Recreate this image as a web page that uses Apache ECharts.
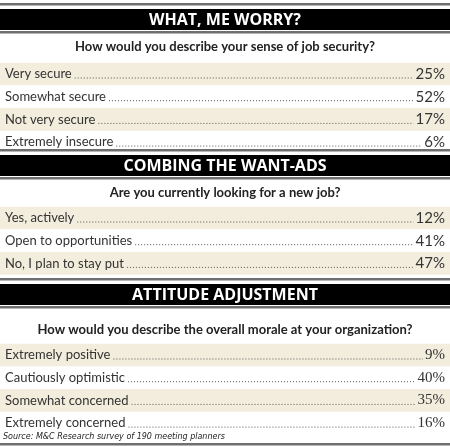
<!DOCTYPE html><html><head><meta charset="utf-8">
<script src="https://cdn.jsdelivr.net/npm/echarts@6/dist/echarts.min.js"></script>
<style>html,body{margin:0;padding:0;background:#fff}#c{width:450px;height:447px}</style></head><body><div id="c"></div>
<script>
const titles=["WHAT, ME WORRY?","COMBING THE WANT-ADS","ATTITUDE ADJUSTMENT"];
const questions=["How would you describe your sense of job security?","Are you currently looking for a new job?","How would you describe the overall morale at your organization?"];
const cats1=["Very secure","Somewhat secure","Not very secure","Extremely insecure"];
const vals1=[25,52,17,6];
const cats2=["Yes, actively","Open to opportunities","No, I plan to stay put"];
const vals2=[12,41,47];
const cats3=["Extremely positive","Cautiously optimistic","Somewhat concerned","Extremely concerned"];
const vals3=[9,40,35,16];
const source="Source: M&C Research survey of 190 meeting planners";

const sections=[
 {title:titles[0],q:questions[0],cats:cats1,vals:vals1,hy:20,qy:47,ry:74,serif:false},
 {title:titles[1],q:questions[1],cats:cats2,vals:vals2,hy:166,qy:193,ry:218,serif:false},
 {title:titles[2],q:questions[2],cats:cats3,vals:vals3,hy:295,qy:330,ry:355,serif:true}
];
const cv=document.createElement('canvas').getContext('2d');
function w(t,f){cv.font=f;return cv.measureText(t).width;}
const rowH=22.7, bodyFont='13px Lato', g=[];
function grayLine(y){g.push({type:'rect',shape:{x:0,y:y,width:450,height:2.5},style:{fill:'#6f6f6f'}});}
sections.forEach(s=>{
 grayLine(s.hy-17);
 g.push({type:'rect',shape:{x:0,y:s.hy-11,width:450,height:21},style:{fill:'#000'}});
 grayLine(s.hy+11);
 g.push({type:'text',x:225,y:s.hy,style:{text:s.title,fill:'#fff',font:'bold 16px "Open Sans"',align:'center',verticalAlign:'middle'}});
 g.push({type:'text',x:225,y:s.qy,style:{text:s.q,fill:'#222',font:'bold 13px Lato',align:'center',verticalAlign:'middle'}});
 s.cats.forEach((c,i)=>{
  const y=s.ry+i*rowH;
  if(i%2===0) g.push({type:'rect',shape:{x:0,y:y-rowH/2,width:450,height:rowH},style:{fill:'#f3eddd'}});
  const vf=s.serif?'15px "Liberation Serif"':'15px Lato';
  const vt=s.vals[i]+'%';
  const lw=w(c,bodyFont), vw=w(vt,vf);
  g.push({type:'text',x:5,y:y,style:{text:c,fill:'#333',font:bodyFont,verticalAlign:'middle'}});
  g.push({type:'line',shape:{x1:5+lw+3,y1:y+4,x2:445-vw-2,y2:y+4},style:{stroke:'#555',lineWidth:1,lineDash:[1,2]}});
  g.push({type:'text',x:445,y:y,style:{text:vt,fill:'#333',font:vf,align:'right',verticalAlign:'middle'}});
 });
});
g.push({type:'text',x:3,y:437,style:{text:source,fill:'#222',font:'italic 8px "DejaVu Sans"',verticalAlign:'middle'}});
grayLine(443);
const ch=echarts.init(document.getElementById('c'),null,{renderer:'canvas'});
ch.setOption({animation:false,graphic:g});
</script></body></html>
